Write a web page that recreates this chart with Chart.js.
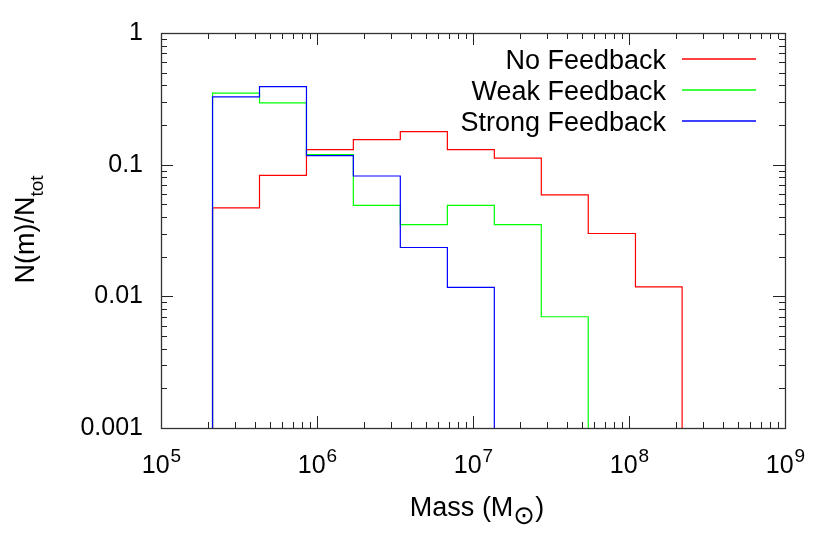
<!DOCTYPE html>
<html>
<head>
<meta charset="utf-8">
<script src="https://cdn.jsdelivr.net/npm/chart.js@4.4.0/dist/chart.umd.min.js"></script>
<style>
    html, body { margin: 0; padding: 0; background: #fff; }
    #wrap { width: 830px; height: 554px; }
</style>
</head>
<body>
<div id="wrap"><canvas id="chart" width="830" height="554"></canvas></div>
<script>
// Halo mass function histogram, log-log

// ── Data ─────────────────────────────────────────────────
const binEdges = [2.14e5, 4.28e5, 8.56e5, 1.71e6, 3.42e6, 6.85e6, 1.37e7, 2.74e7, 5.48e7, 1.10e8, 2.19e8];
const noFeedback     = [0.047, 0.083, 0.130, 0.155, 0.178, 0.130, 0.112, 0.059, 0.030, 0.0118];
const weakFeedback   = [0.349, 0.295, 0.119, 0.049, 0.035, 0.049, 0.035, 0.0070];
const strongFeedback = [0.327, 0.392, 0.117, 0.082, 0.0235, 0.0117];
const seriesLabels = ['No Feedback', 'Weak Feedback', 'Strong Feedback'];
const seriesColors = ['#ff0000', '#00ff00', '#0000ff'];

const xTicks = [1e5, 1e6, 1e7, 1e8, 1e9];
const xTickLabels = ['10^5', '10^6', '10^7', '10^8', '10^9'];
const yTicks = [0.001, 0.01, 0.1, 1];
const yTickLabels = ['0.001', '0.01', '0.1', '1'];
const xTitle = ['Mass (M', '\u2299', ')'];
const yTitle = ['N(m)/N', 'tot'];

const FONT = "'Liberation Sans', Arial, Helvetica, sans-serif";
const SYM_FONT = "26px 'DejaVu Sans', sans-serif";
const Y_MIN = yTicks[0];

// step outline: up from the floor, across each bin, back down at the end
function histPoints(vals) {
    const pts = [{ x: binEdges[0], y: Y_MIN }];
    vals.forEach((v, i) => {
        pts.push({ x: binEdges[i], y: v });
        pts.push({ x: binEdges[i + 1], y: v });
    });
    pts.push({ x: binEdges[vals.length], y: Y_MIN });
    return pts;
}

// ── Frame + gnuplot style inward ticks ───────────────────
const frameTicks = {
    id: 'frameTicks',
    afterDatasetsDraw(chart) {
        const { ctx, chartArea: a, scales: { x, y } } = chart;
        ctx.save();
        ctx.strokeStyle = '#222';
        ctx.lineWidth = 1;
        ctx.beginPath();
        const xe0 = Math.round(Math.log10(x.min)), xe1 = Math.round(Math.log10(x.max));
        for (let e = xe0; e <= xe1; e++) {
            for (let k = 1; k <= 9; k++) {
                if (e === xe1 && k > 1) break;
                const px = Math.round(x.getPixelForValue(k * Math.pow(10, e))) + 0.5;
                const len = k === 1 ? 12 : 6;
                ctx.moveTo(px, a.bottom); ctx.lineTo(px, a.bottom - len);
                ctx.moveTo(px, a.top);    ctx.lineTo(px, a.top + len);
            }
        }
        const ye0 = Math.round(Math.log10(y.min)), ye1 = Math.round(Math.log10(y.max));
        for (let e = ye0; e <= ye1; e++) {
            for (let k = 1; k <= 9; k++) {
                if (e === ye1 && k > 1) break;
                const py = Math.round(y.getPixelForValue(k * Math.pow(10, e))) + 0.5;
                const len = k === 1 ? 12 : 6;
                ctx.moveTo(a.left, py);  ctx.lineTo(a.left + len, py);
                ctx.moveTo(a.right, py); ctx.lineTo(a.right - len, py);
            }
        }
        ctx.stroke();
        ctx.strokeStyle = '#333';
        ctx.lineWidth = 1.3;
        ctx.strokeRect(Math.round(a.left) + 0.5, Math.round(a.top) + 0.5,
                       Math.round(a.right - a.left), Math.round(a.bottom - a.top));
        ctx.restore();
    }
};

// ── Texts with super/subscripts + legend ─────────────────
const labelsPlugin = {
    id: 'labelsPlugin',
    afterDraw(chart) {
        const { ctx, chartArea: a, scales: { x } } = chart;
        ctx.save();
        ctx.fillStyle = '#000';
        ctx.textBaseline = 'alphabetic';
        ctx.textAlign = 'left';

        // x tick labels 10^n
        xTicks.forEach((v, i) => {
            const [base, sup] = xTickLabels[i].split('^');
            ctx.font = '25px ' + FONT;
            const wb = ctx.measureText(base).width;
            ctx.font = '19px ' + FONT;
            const ws = ctx.measureText(sup).width;
            const px = x.getPixelForValue(v);
            const x0 = px - (wb + ws) / 2;
            ctx.font = '25px ' + FONT;
            ctx.fillText(base, x0, a.bottom + 45);
            ctx.font = '19px ' + FONT;
            ctx.fillText(sup, x0 + wb + 1, a.bottom + 34);
        });

        // x title, sun symbol as subscript
        ctx.font = '27px ' + FONT;
        const w1 = ctx.measureText(xTitle[0]).width;
        const w3 = ctx.measureText(xTitle[2]).width;
        ctx.font = SYM_FONT;
        const w2 = ctx.measureText(xTitle[1]).width;
        const cx = (a.left + a.right) / 2 + 4;
        const tx = cx - (w1 + w2 + w3) / 2;
        ctx.font = '27px ' + FONT;
        ctx.fillText(xTitle[0], tx, 516);
        ctx.font = SYM_FONT;
        ctx.fillText(xTitle[1], tx + w1, 524);
        ctx.font = '27px ' + FONT;
        ctx.fillText(xTitle[2], tx + w1 + w2, 516);

        // y title, rotated
        ctx.save();
        ctx.translate(34, (a.top + a.bottom) / 2 - 1);
        ctx.rotate(-Math.PI / 2);
        ctx.font = '27px ' + FONT;
        const wm = ctx.measureText(yTitle[0]).width;
        ctx.font = '19px ' + FONT;
        const wt = ctx.measureText(yTitle[1]).width;
        const y0 = -(wm + wt) / 2;
        ctx.font = '27px ' + FONT;
        ctx.fillText(yTitle[0], y0, 0);
        ctx.font = '19px ' + FONT;
        ctx.fillText(yTitle[1], y0 + wm, 9);
        ctx.restore();

        // legend, text right aligned with sample line on the right
        ctx.font = '27px ' + FONT;
        ctx.textAlign = 'right';
        seriesLabels.forEach((lab, i) => {
            const ry = 59 + i * 31;
            ctx.fillText(lab, 666, ry + 9.5);
            ctx.strokeStyle = seriesColors[i];
            ctx.lineWidth = 1.5;
            ctx.beginPath();
            ctx.moveTo(682, ry);
            ctx.lineTo(756, ry);
            ctx.stroke();
        });
        ctx.restore();
    }
};

const series = [noFeedback, weakFeedback, strongFeedback];

new Chart(document.getElementById('chart').getContext('2d'), {
    type: 'line',
    data: {
        datasets: series.map((vals, i) => ({
            label: seriesLabels[i],
            data: histPoints(vals),
            borderColor: seriesColors[i],
            backgroundColor: seriesColors[i],
            borderWidth: 1.2,
            pointRadius: 0,
            fill: false,
            tension: 0,
            order: series.length - i   // later series drawn on top
        }))
    },
    options: {
        responsive: false,
        animation: false,
        layout: { padding: { left: 0, right: 45, top: 32, bottom: 0 } },
        plugins: { legend: { display: false }, tooltip: { enabled: false } },
        scales: {
            x: {
                type: 'logarithmic', min: xTicks[0], max: xTicks[xTicks.length - 1],
                grid: { display: false, drawTicks: false },
                border: { display: false },
                ticks: { display: false },
                afterFit: s => { s.height = 126; }
            },
            y: {
                type: 'logarithmic', min: yTicks[0], max: yTicks[yTicks.length - 1],
                grid: { display: false, drawTicks: false },
                border: { display: false },
                afterBuildTicks: s => { s.ticks = yTicks.map(v => ({ value: v })); },
                ticks: {
                    color: '#000', padding: 18, autoSkip: false,
                    font: { family: FONT, size: 25 },
                    callback: (v, i) => yTickLabels[i]
                },
                afterFit: s => { s.width = 161; }
            }
        }
    },
    plugins: [frameTicks, labelsPlugin]
});
</script>
</body>
</html>
